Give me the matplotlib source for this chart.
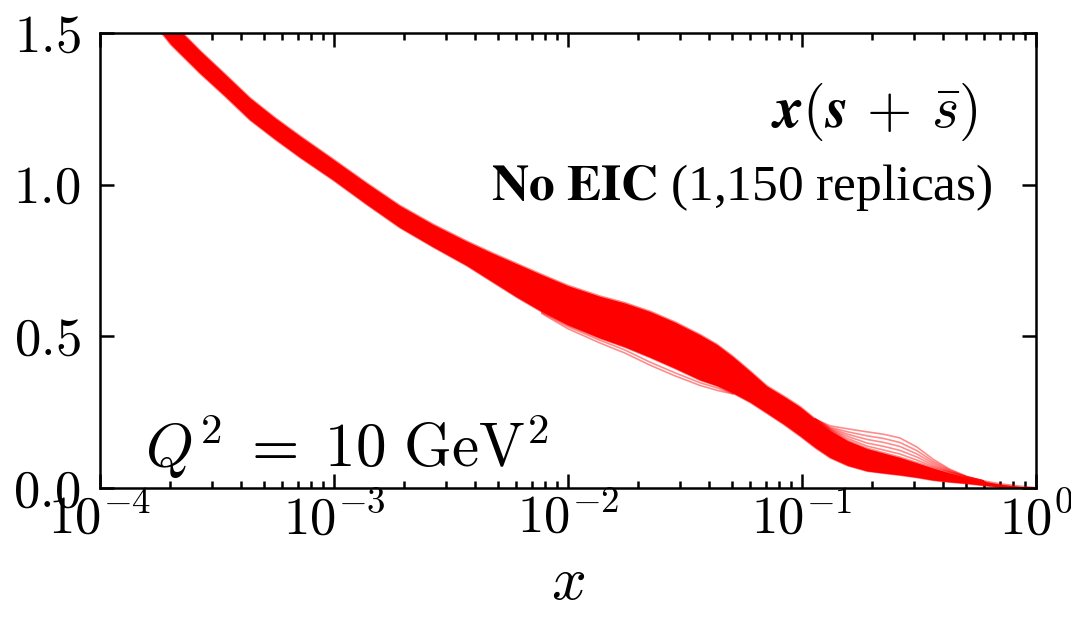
import numpy as np
import matplotlib
matplotlib.use('Agg')
import matplotlib.pyplot as plt
from matplotlib.ticker import LogLocator, FixedLocator, NullFormatter, FixedFormatter

plt.rcParams['mathtext.fontset'] = 'cm'
plt.rcParams['font.family'] = ['Liberation Serif', 'DejaVu Serif']

# ---- data ----
x_band = [1.48e-4, 2.01e-4, 2.67e-4, 3.4e-4, 4.37e-4, 5.6e-4, 7.16e-4, 9.9e-4, 1.38e-3, 1.91e-3,
          2.65e-3, 3.70e-3, 4.73e-3, 6.05e-3, 7.74e-3, 1.0e-2, 1.37e-2, 1.75e-2,
          2.24e-2, 2.86e-2, 3.67e-2, 4.33e-2, 5.07e-2, 6.0e-2, 7.08e-2, 8.37e-2,
          9.8e-2, 0.114, 0.132, 0.157, 0.19, 0.224, 0.262, 0.31, 0.363, 0.428,
          0.507, 0.594, 0.70, 0.838, 1.0]
band_upper = [1.67, 1.538, 1.442, 1.366, 1.286, 1.22, 1.16, 1.084, 1.005, 0.931,
              0.869, 0.813, 0.775, 0.739, 0.703, 0.667, 0.632, 0.610,
              0.582, 0.547, 0.505, 0.473, 0.433, 0.385, 0.336, 0.302,
              0.268, 0.227, 0.19, 0.156, 0.13, 0.115, 0.101, 0.083, 0.066, 0.05,
              0.035, 0.023, 0.013, 0.006, 0.0]
band_lower = [1.59, 1.462, 1.368, 1.294, 1.214, 1.15, 1.09, 1.016, 0.935, 0.859,
              0.795, 0.733, 0.681, 0.629, 0.581, 0.537, 0.494, 0.465,
              0.431, 0.395, 0.356, 0.337, 0.313, 0.283, 0.247, 0.21,
              0.172, 0.133, 0.10, 0.074, 0.056, 0.049, 0.043, 0.035, 0.026, 0.02,
              0.015, 0.009, 0.003, 0.0, 0.0]

# outlier replicas below the band
x_low_out = [7.74e-3, 1.0e-2, 1.37e-2, 1.75e-2, 2.24e-2, 2.86e-2, 3.67e-2, 4.33e-2, 5.07e-2]
low_out_1 = [0.575, 0.525, 0.478, 0.445, 0.405, 0.37, 0.338, 0.322, 0.31]
low_out_2 = [0.578, 0.532, 0.487, 0.455, 0.415, 0.38, 0.347, 0.33, 0.312]

# outlier replicas above the band
x_high_out = [0.114, 0.132, 0.157, 0.19, 0.224, 0.262, 0.31, 0.363, 0.428, 0.507, 0.594]
high_out_1 = [0.227, 0.205, 0.195, 0.185, 0.177, 0.165, 0.135, 0.095, 0.062, 0.038, 0.024]
high_out_2 = [0.227, 0.200, 0.185, 0.172, 0.163, 0.150, 0.123, 0.088, 0.059, 0.037, 0.024]
high_out_3 = [0.227, 0.197, 0.177, 0.160, 0.150, 0.137, 0.112, 0.082, 0.056, 0.036, 0.023]
high_out_4 = [0.227, 0.194, 0.170, 0.148, 0.137, 0.124, 0.102, 0.076, 0.054, 0.036, 0.023]
high_out_5 = [0.227, 0.192, 0.163, 0.138, 0.125, 0.112, 0.092, 0.071, 0.052, 0.035, 0.023]

y_ticks = [0.0, 0.5, 1.0, 1.5]
y_tick_labels = ['$0.0$', '$0.5$', '$1.0$', '$1.5$']
x_ticks = [1e-4, 1e-3, 1e-2, 1e-1, 1e0]
x_tick_labels = ['$10^{-4}$', '$10^{-3}$', '$10^{-2}$', '$10^{-1}$', '$10^{0}$']

title_text = r'$\boldsymbol{x(s\,+\,\bar{s})}$'
info_text = r'$\mathbf{No\ EIC}$ (1,150 replicas)'
scale_text = r'$Q^2\;=\;10\ \mathrm{GeV}^2$'

# ---- figure ----
fig = plt.figure(figsize=(10.71, 6.18), dpi=100)
ax = fig.add_axes([100/1071, 1-488/618, (1036-100)/1071, (488-33)/618])

red = '#ff0000'
ax.fill_between(x_band, band_lower, band_upper, color=red, lw=0, zorder=2)
ax.plot(x_band, band_upper, color=red, lw=1.5, alpha=0.5, zorder=2)
ax.plot(x_band, band_lower, color=red, lw=1.5, alpha=0.5, zorder=2)
for ys in (low_out_1, low_out_2):
    ax.plot(x_low_out, ys, color=red, lw=1.2, alpha=0.45, zorder=2)
for ys in (high_out_1, high_out_2, high_out_3, high_out_4, high_out_5):
    ax.plot(x_high_out, ys, color=red, lw=1.2, alpha=0.45, zorder=2)

ax.set_xscale('log')
ax.set_xlim(1e-4, 1.0)
ax.set_ylim(0, 1.5)

ax.xaxis.set_major_locator(FixedLocator(x_ticks))
ax.xaxis.set_major_formatter(FixedFormatter(x_tick_labels))
ax.xaxis.set_minor_locator(LogLocator(base=10, subs=np.arange(2, 10), numticks=20))
ax.xaxis.set_minor_formatter(NullFormatter())
ax.yaxis.set_major_locator(FixedLocator(y_ticks))
ax.yaxis.set_major_formatter(FixedFormatter(y_tick_labels))

ax.tick_params(which='both', direction='in', top=True, right=True, width=1.8, colors='black')
ax.tick_params(which='major', length=10, labelsize=38)
ax.tick_params(which='minor', length=5)
ax.tick_params(axis='x', which='major', pad=4)
ax.tick_params(axis='y', which='major', pad=14)
for s in ax.spines.values():
    s.set_linewidth(1.8)

ax.set_xlabel('$x$', fontsize=44, labelpad=8)

ax.text(0.937, 0.793, title_text, transform=ax.transAxes, ha='right',
        va='baseline', fontsize=42)
ax.text(0.954, 0.633, info_text, transform=ax.transAxes, ha='right',
        va='baseline', fontsize=37, math_fontfamily='stix')
ax.text(0.048, 0.046, scale_text, transform=ax.transAxes, ha='left',
        va='baseline', fontsize=44)

fig.savefig('out.png', dpi=100)
